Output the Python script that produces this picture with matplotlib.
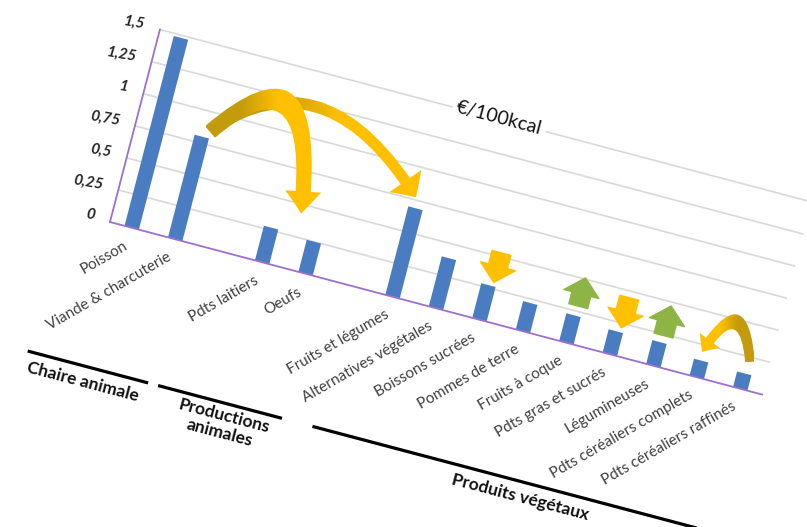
import numpy as np
import matplotlib
matplotlib.use("Agg")
import matplotlib.pyplot as plt
from matplotlib.transforms import Affine2D, offset_copy
from matplotlib.patches import FancyArrowPatch
from matplotlib.path import Path
from matplotlib.colors import LinearSegmentedColormap

plt.rcParams['font.family'] = ['Lato', 'DejaVu Sans']

# data (EUR per 100 kcal)
groups = ['Chaire animale', 'Productions\nanimales', 'Produits végétaux']
categories = [
    ['Poisson', 'Viande & charcuterie'],
    ['Pdts laitiers', 'Oeufs'],
    ['Fruits et légumes', 'Alternatives végétales', 'Boissons sucrées',
     'Pommes de terre', 'Fruits à coque', 'Pdts gras et sucrés',
     'Légumineuses', 'Pdts céréaliers complets', 'Pdts céréaliers raffinés'],
]
values = [
    [1.48, 0.80],
    [0.27, 0.25],
    [0.69, 0.39, 0.27, 0.22, 0.215, 0.18, 0.185, 0.13, 0.12],
]
yticks = [0, 0.25, 0.5, 0.75, 1, 1.25, 1.5]
unit = '€/100kcal'

blue = '#4a7cc2'
purple = '#9e6fce'
grid = '#d9d9d9'
gold = '#c49b0c'
yellow = '#ffc000'
green = '#8db545'

# slot positions: one empty slot between groups
xs, labels, vals = [], [], []
pos = 0
for cats, v in zip(categories, values):
    for c, val in zip(cats, v):
        xs.append(pos)
        labels.append(c)
        vals.append(val)
        pos += 1
    pos += 1
xmin, xmax = -0.5, xs[-1] + 0.5

fig = plt.figure(figsize=(8.07, 5.27), dpi=100)
ax = fig.add_axes([0, 0, 1, 1])
ax.set_xlim(0, 807)
ax.set_ylim(527, 0)
ax.axis('off')
ax.set_autoscale_on(False)

# the chart is seen in a sheared perspective
skew = Affine2D().from_values(43.47, 11.5, 33.3, -128.3, 131.7, 227.75) + ax.transData

for t in yticks[1:]:
    ax.plot([xmin, xmax], [t, t], color=grid, lw=1.2, transform=skew, zorder=1,
            solid_capstyle='butt')

ax.bar(xs, vals, width=0.33, color=blue, transform=skew, zorder=2)

ax.plot([xmin, xmin], [0, yticks[-1]], color=purple, lw=1.3, transform=skew, zorder=3)
ax.plot([xmin, xmax], [0, 0], color=purple, lw=1.3, transform=skew, zorder=3)

ytr = offset_copy(skew, fig, x=-14, y=7, units='dots')
for t in yticks:
    ax.text(xmin, t, f'{t:g}'.replace('.', ','), transform=ytr, ha='right',
            va='center', fontsize=11, fontweight='bold', style='italic',
            color='#262626', rotation=-10)

xtr = offset_copy(skew, fig, x=-5, y=-17, units='dots')
for x, lab in zip(xs, labels):
    ax.text(x, 0, lab, transform=xtr, rotation=30, rotation_mode='anchor',
            ha='right', va='center', fontsize=11, color='#404040')

# group brackets below the labels
spans = [(-1.55, 1.22), (1.45, 4.3), (5.0, 17.0)]
label_pos = [(-0.19, -1.22), (3.03, -1.26), (9.86, -1.215)]
for (a, b), (lx, ly), g in zip(spans, label_pos, groups):
    ax.plot([a, b], [-1.1, -1.1], color='black', lw=2.3, transform=skew,
            solid_capstyle='butt')
    ax.text(lx, ly, g, transform=skew, rotation=-14.8, ha='center', va='center',
            fontsize=12.5, fontweight='bold', color='#111111', linespacing=1.1,
            rotation_mode='anchor')

ax.text(7.3, 1.51, unit, transform=skew, rotation=-14.8, ha='center', va='center',
        fontsize=14, color='#111111', rotation_mode='anchor',
        bbox=dict(facecolor='white', edgecolor='none', pad=3), zorder=6)


def curved(p0, c, p2, tail, hw, hl, reverse=False):
    arr = FancyArrowPatch(path=Path([p0, c, p2], [Path.MOVETO, Path.CURVE3, Path.CURVE3]),
                          arrowstyle=f'simple,head_width={hw},head_length={hl},tail_width={tail}',
                          transform=skew, facecolor='none', edgecolor='none', zorder=4)
    ax.add_patch(arr)
    pts = skew.transform(arr.get_path().vertices)
    pts = ax.transData.inverted().transform(pts)
    x0, x1 = pts[:, 0].min(), pts[:, 0].max()
    y0, y1 = pts[:, 1].min(), pts[:, 1].max()
    cols = [(0, gold), (0.3, gold), (0.62, yellow), (1, yellow)]
    if reverse:
        cols = [(0, yellow), (0.38, yellow), (0.7, gold), (1, gold)]
    cmap = LinearSegmentedColormap.from_list('g', cols)
    im = ax.imshow(np.linspace(0, 1, 256).reshape(1, -1), extent=(x0, x1, y1, y0),
                   cmap=cmap, aspect='auto', zorder=4, interpolation='bilinear')
    im.set_clip_path(arr)


def straight(x, v0, v1, color):
    arr = FancyArrowPatch((x, v0), (x, v1), arrowstyle='simple,head_width=26,head_length=12,tail_width=14',
                          transform=skew, color=color, shrinkA=0, shrinkB=0, zorder=4)
    ax.add_patch(arr)


curved((1.2, 0.88), (3.21, 1.65), (5.95, 0.77), 8, 28, 14)
curved((1.15, 0.85), (3.0, 1.75), (3.57, 0.43), 11, 26, 16)
curved((14.06, 0.214), (13.51, 0.75), (12.97, 0.194), 7, 18, 10, reverse=True)

straight(8.1, 0.53, 0.30, yellow)
straight(11.1, 0.45, 0.215, yellow)
straight(10.05, 0.29, 0.51, green)
straight(12.05, 0.24, 0.47, green)

ax.set_xlim(0, 807)
ax.set_ylim(527, 0)
fig.savefig('out.png', dpi=100)
